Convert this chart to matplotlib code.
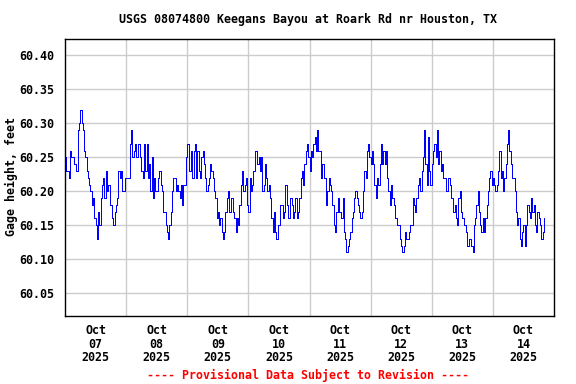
import matplotlib
matplotlib.use("Agg")
import matplotlib.pyplot as plt
import numpy as np

# Half-hourly gage height readings starting Oct 07 2025 00:00 (feet)
gage_height = [
    60.25, 60.23, 60.23, 60.22, 60.26, 60.25, 60.25, 60.24, 60.24, 60.23,
    60.29, 60.30, 60.32, 60.30, 60.29, 60.26, 60.25, 60.23, 60.22, 60.21,
    60.20, 60.18, 60.19, 60.16, 60.15, 60.13, 60.17, 60.15, 60.19, 60.21,
    60.22, 60.19, 60.23, 60.20, 60.21, 60.18, 60.18, 60.16, 60.15, 60.17,
    60.18, 60.19, 60.23, 60.22, 60.23, 60.20, 60.20, 60.22, 60.22, 60.22,
    60.22, 60.27, 60.29, 60.25, 60.26, 60.27, 60.25, 60.27, 60.27, 60.25,
    60.23, 60.22, 60.27, 60.23, 60.27, 60.22, 60.24, 60.20, 60.25, 60.19,
    60.22, 60.20, 60.20, 60.22, 60.23, 60.21, 60.20, 60.17, 60.17, 60.15,
    60.14, 60.13, 60.15, 60.17, 60.20, 60.22, 60.22, 60.20, 60.21, 60.20,
    60.19, 60.21, 60.18, 60.21, 60.21, 60.25, 60.27, 60.23, 60.23, 60.26,
    60.22, 60.26, 60.27, 60.22, 60.26, 60.23, 60.22, 60.25, 60.26, 60.24,
    60.22, 60.20, 60.21, 60.22, 60.24, 60.23, 60.22, 60.20, 60.19, 60.16,
    60.17, 60.15, 60.16, 60.14, 60.13, 60.14, 60.17, 60.19, 60.20, 60.17,
    60.19, 60.19, 60.17, 60.16, 60.14, 60.16, 60.15, 60.18, 60.21, 60.23,
    60.20, 60.21, 60.22, 60.18, 60.17, 60.22, 60.20, 60.21, 60.23, 60.26,
    60.26, 60.24, 60.25, 60.23, 60.25, 60.20, 60.21, 60.24, 60.22, 60.20,
    60.21, 60.19, 60.16, 60.14, 60.17, 60.14, 60.13, 60.15, 60.15, 60.18,
    60.18, 60.16, 60.17, 60.21, 60.18, 60.16, 60.16, 60.19, 60.18, 60.16,
    60.17, 60.19, 60.16, 60.17, 60.19, 60.22, 60.23, 60.21, 60.24, 60.26,
    60.27, 60.25, 60.23, 60.26, 60.25, 60.27, 60.28, 60.26, 60.29, 60.26,
    60.26, 60.22, 60.24, 60.22, 60.22, 60.18, 60.20, 60.22, 60.21, 60.20,
    60.18, 60.15, 60.14, 60.17, 60.19, 60.17, 60.17, 60.16, 60.19, 60.14,
    60.13, 60.11, 60.12, 60.13, 60.14, 60.16, 60.17, 60.19, 60.20, 60.19,
    60.18, 60.17, 60.16, 60.17, 60.20, 60.23, 60.22, 60.26, 60.27, 60.25,
    60.24, 60.26, 60.24, 60.21, 60.19, 60.22, 60.21, 60.24, 60.27, 60.24,
    60.26, 60.24, 60.26, 60.22, 60.20, 60.18, 60.21, 60.19, 60.18, 60.16,
    60.16, 60.15, 60.15, 60.13, 60.12, 60.11, 60.12, 60.14, 60.13, 60.13,
    60.14, 60.15, 60.15, 60.19, 60.18, 60.17, 60.19, 60.21, 60.22, 60.20,
    60.23, 60.25, 60.29, 60.24, 60.21, 60.28, 60.23, 60.21, 60.24, 60.26,
    60.27, 60.25, 60.29, 60.24, 60.26, 60.23, 60.24, 60.22, 60.22, 60.20,
    60.20, 60.22, 60.21, 60.19, 60.19, 60.17, 60.18, 60.16, 60.15, 60.19,
    60.20, 60.17, 60.16, 60.15, 60.15, 60.14, 60.12, 60.13, 60.13, 60.12,
    60.11, 60.15, 60.16, 60.18, 60.20, 60.17, 60.15, 60.14, 60.16, 60.14,
    60.16, 60.18, 60.20, 60.22, 60.23, 60.21, 60.22, 60.21, 60.20, 60.21,
    60.23, 60.26, 60.22, 60.23, 60.20, 60.22, 60.24, 60.27, 60.29, 60.26,
    60.24, 60.22, 60.22, 60.20, 60.17, 60.15, 60.16, 60.13, 60.12, 60.14,
    60.15, 60.12, 60.15, 60.18, 60.17, 60.16, 60.19, 60.17, 60.18, 60.15,
    60.14, 60.17, 60.16, 60.15, 60.13, 60.14, 60.16,
]
hours = np.arange(len(gage_height)) * 0.5

day_labels = ["Oct\n07\n2025", "Oct\n08\n2025", "Oct\n09\n2025", "Oct\n10\n2025",
              "Oct\n11\n2025", "Oct\n12\n2025", "Oct\n13\n2025", "Oct\n14\n2025"]
y_ticks = [60.05, 60.10, 60.15, 60.20, 60.25, 60.30, 60.35, 60.40]

title = "USGS 08074800 Keegans Bayou at Roark Rd nr Houston, TX"
ylabel = "Gage height, feet"
footer = "---- Provisional Data Subject to Revision ----"

plt.rcParams['font.family'] = ['DejaVu Sans Mono']
plt.rcParams['font.weight'] = 'bold'

fig = plt.figure(figsize=(5.76, 3.84), dpi=100)
ax = fig.add_axes([65/576, 1-316/384, (554-65)/576, (316-39)/384])

ax.plot(hours, gage_height, color='#0000ff', linewidth=0.72,
        antialiased=False, drawstyle='steps-post')

ax.set_xlim(0, 192)
ax.set_ylim(60.0166, 60.424)

ax.set_xticks(np.arange(24, 192, 24))
ax.set_xticklabels([])
ax.set_xticks(np.arange(12, 192, 24), minor=True)
ax.set_xticklabels(day_labels, minor=True, fontsize=8.4, fontweight='bold', linespacing=1.05)
ax.tick_params(axis='x', which='both', length=0, pad=6)

ax.set_yticks(y_ticks)
ax.set_yticklabels([f"{v:.2f}" for v in y_ticks], fontsize=8.4, fontweight='bold')
ax.tick_params(axis='y', length=0, pad=8)

ax.grid(True, which='major', color='#cccccc', linewidth=1.0)
ax.set_axisbelow(True)
for s in ax.spines.values():
    s.set_linewidth(1.0)
    s.set_color('black')

fig.text(308/576, 1-20/384, title, ha='center', va='center', fontsize=8.4, fontweight='bold')
fig.text(11/576, 1-177/384, ylabel, ha='center', va='center', rotation=90, fontsize=8.4, fontweight='bold')
fig.text(308/576, 1-375/384, footer, ha='center', va='center', fontsize=8.4, fontweight='bold', color='red')

fig.savefig("out.png", dpi=100)
